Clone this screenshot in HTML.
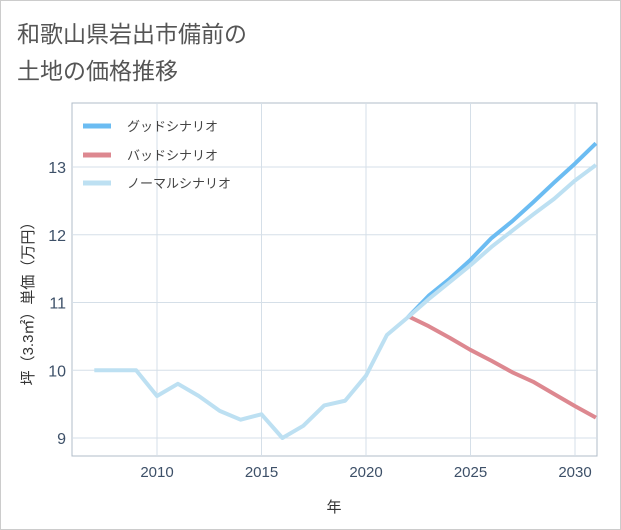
<!DOCTYPE html>
<html><head><meta charset="utf-8"><style>
body{margin:0;background:#fff;}
#card{position:absolute;left:0;top:0;width:619px;height:528px;border:1px solid #ccc;background:#fff;}
svg{position:absolute;left:0;top:0;}
text{font-family:"Liberation Sans","Noto Sans CJK JP",sans-serif;}
</style></head><body>
<div id="card"></div>
<svg width="621" height="530" id="chart">
<text x="17" y="42" font-size="23" fill="#555">和歌山県岩出市備前の</text>
<text x="17" y="79" font-size="23" fill="#555">土地の価格推移</text>
<rect x="72" y="103" width="525" height="353" fill="none" stroke="#b0bcc8" stroke-width="1"/>
<g id="grid"></g><g id="ticks"></g><g id="series"></g>
<text x="334" y="512" font-size="15" fill="#333" text-anchor="middle">年</text>
<text transform="translate(33,300) rotate(-90)" font-size="15" fill="#333" text-anchor="middle">坪（3.3㎡）単価（万円）</text>
<g>
<line x1="83" y1="126" x2="111" y2="126" stroke="#6bbcf2" stroke-width="5"/>
<text x="127" y="131" font-size="13" fill="#444">グッドシナリオ</text>
<line x1="83" y1="155" x2="111" y2="155" stroke="#dd8890" stroke-width="5"/>
<text x="127" y="160" font-size="13" fill="#444">バッドシナリオ</text>
<line x1="83" y1="183" x2="111" y2="183" stroke="#bde0f2" stroke-width="5"/>
<text x="127" y="188" font-size="13" fill="#444">ノーマルシナリオ</text>
</g>
</svg>
<script>
const years=[2007,2008,2009,2010,2011,2012,2013,2014,2015,2016,2017,2018,2019,2020,2021,2022];
const histValues=[10.0,10.0,10.0,9.62,9.8,9.62,9.4,9.27,9.35,9.0,9.18,9.48,9.55,9.92,10.52,10.78];
const futureYears=[2022,2023,2024,2025,2026,2027,2028,2029,2030,2031];
const goodValues=[10.78,11.1,11.35,11.63,11.95,12.2,12.48,12.77,13.05,13.35];
const badValues=[10.8,10.65,10.48,10.3,10.14,9.97,9.83,9.65,9.47,9.3];
const normalValues=[10.78,11.05,11.3,11.55,11.82,12.06,12.3,12.53,12.8,13.03];
const xTicks=[2010,2015,2020,2025,2030];
const yTicks=[9,10,11,12,13];
const X=y=>157+(y-2010)*20.9;
const Y=v=>438-(v-9)*67.75;
const NS="http://www.w3.org/2000/svg";
const grid=document.getElementById('grid'),ticks=document.getElementById('ticks'),ser=document.getElementById('series');
function mk(t,a,p){const e=document.createElementNS(NS,t);for(const k in a)e.setAttribute(k,a[k]);p.appendChild(e);return e;}
xTicks.forEach(t=>{
 const l=mk('line',{x1:X(t),x2:X(t),y1:103,y2:456,stroke:'#d5dfe8'},grid);
 
 
 const tx=mk('text',{x:X(t),y:477,'font-size':15,fill:'#3d5068','text-anchor':'middle'},ticks);
 tx.textContent=t;
 
 
});
yTicks.forEach(t=>{
 const l=mk('line',{x1:72,x2:597,y1:Y(t),y2:Y(t),stroke:'#d5dfe8'},grid);
 
 
 const tx=mk('text',{x:66,y:Y(t)+6,'font-size':16,fill:'#3d5068','text-anchor':'end'},ticks);
 tx.textContent=t;
 
 
});
function line(xs,vs,c,name){
 const p=mk('polyline',{points:xs.map((x,i)=>X(x)+','+Y(vs[i])).join(' '),fill:'none',stroke:c,'stroke-width':4,'stroke-linejoin':'round'},ser);
 
 
}
line(futureYears,badValues,'#dd8890','bad-scenario-line');
line(futureYears,goodValues,'#6bbcf2','good-scenario-line');
line(futureYears,normalValues,'#bde0f2','normal-scenario-line');
line(years,histValues,'#bde0f2','historical-price-line');
</script>
</body></html>
